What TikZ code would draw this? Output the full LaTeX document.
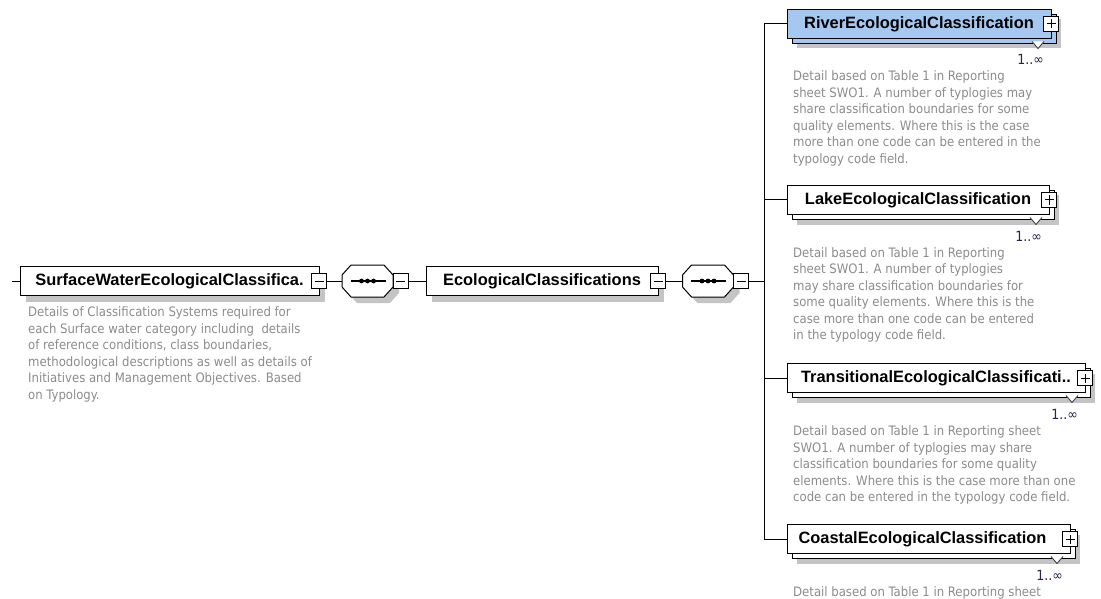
\documentclass[tikz,border=0pt]{standalone}
\usepackage{fontspec}
\setmainfont{DejaVu Sans Condensed}
\newfontfamily\namefont{Liberation Sans}
\usetikzlibrary{calc,backgrounds}

\definecolor{shadowgray}{RGB}{196,196,196}
\definecolor{desctext}{RGB}{140,140,140}
\definecolor{occurs}{RGB}{50,30,80}
\definecolor{selblue}{RGB}{166,200,240}

% octagonal outline of a sequence compositor, built on a frame node
\newcommand\seqoctagon[1]{($(#1.north west)+(9,0)$) -- ($(#1.north east)+(-9,0)$) -- ($(#1.north east)+(0,10)$) -- ($(#1.south east)+(0,-10)$) -- ($(#1.south east)+(-9,0)$) -- ($(#1.south west)+(9,0)$) -- ($(#1.south west)+(0,-10)$) -- ($(#1.north west)+(0,10)$) -- cycle}

\tikzset{
  elem/.style={draw=black, fill=white, line width=1pt, minimum height=29pt,
    inner sep=0pt, outer sep=0pt, font=\namefont\bfseries\fontsize{16.4}{19}\selectfont},
  seqframe/.style={minimum width=51pt, minimum height=32pt, inner sep=0pt, outer sep=0pt},
  toggle/.style={draw=black, fill=white, line width=1pt, minimum size=15pt,
    inner sep=0pt, outer sep=0pt},
  minusbox/.style={toggle, path picture={
    \draw[line width=1pt] ([xshift=3pt]path picture bounding box.west)
      -- ([xshift=-3pt]path picture bounding box.east);}},
  plusbox/.style={toggle, path picture={
    \draw[line width=1pt] ([xshift=3pt]path picture bounding box.west)
      -- ([xshift=-3pt]path picture bounding box.east);
    \draw[line width=1pt] ([yshift=3pt]path picture bounding box.south)
      -- ([yshift=-3pt]path picture bounding box.north);}},
  desc/.style={anchor=north west, inner sep=0pt, align=left, text=desctext,
    font=\fontsize{13}{16.5}\selectfont},
  occ/.style={anchor=base east, inner sep=0pt, text=occurs, font=\fontsize{14}{16}\selectfont},
  conn/.style={draw=black, line width=1pt},
  shadowsmall/.style={fill=shadowgray, transform canvas={xshift=6pt, yshift=-6pt}},
  shadowbig/.style={fill=shadowgray, transform canvas={xshift=10pt, yshift=-10pt}},
  backlayer/.style={draw=black, line width=1pt, transform canvas={xshift=5pt, yshift=-5pt}},
  chevron/.style={fill=white, draw=black!75, line width=0.9pt},
}

\begin{document}
\begin{tikzpicture}[x=1pt, y=-1pt]
\useasboundingbox (0,0) rectangle (1101,599);

% ---- root element and its content model ----
\coordinate (rootin) at (12,281);
\node[elem, minimum width=299pt] (root) at (169.5,281) {SurfaceWaterEcologicalClassifica.};
\node[minusbox] (root-tog) at (root.east) {};
\node[desc] (root-doc) at (28,306.5) {Details of Classification Systems required for\\
each Surface water category including~ details\\
of reference conditions, class boundaries,\\
methodological descriptions as well as details of\\
Initiatives and Management Objectives. Based\\
on Typology.};

\node[seqframe] (seq1) at (367.5,281) {};
\filldraw[fill=white, draw=black, line width=1pt] \seqoctagon{seq1};
\draw[line width=1.2pt] ($(seq1.center)+(-17,0)$) -- ($(seq1.center)+(18,0)$);
\foreach \dx in {-6,0,6} \fill ($(seq1.center)+(\dx,0)$) circle (2.4pt);
\node[minusbox] (seq1-tog) at ([xshift=7.5pt]seq1.east) {};

\node[elem, minimum width=232pt] (eco) at (542,281) {EcologicalClassifications};
\node[minusbox] (eco-tog) at (eco.east) {};

\node[seqframe] (seq2) at (708,281) {};
\filldraw[fill=white, draw=black, line width=1pt] \seqoctagon{seq2};
\draw[line width=1.2pt] ($(seq2.center)+(-17,0)$) -- ($(seq2.center)+(18,0)$);
\foreach \dx in {-6,0,6} \fill ($(seq2.center)+(\dx,0)$) circle (2.4pt);
\node[minusbox] (seq2-tog) at ([xshift=7.5pt]seq2.east) {};

\coordinate (trunk) at (764,281);

% ---- the four repeated child elements ----
\node[elem, fill=selblue, minimum width=264pt] (river) at (919,24) {RiverEcologicalClassification};
\node[plusbox] (river-tog) at (river.east) {};
\node[occ] (river-occ) at ($(river.south east)+(-7,26.5)$) {1..∞};
\node[desc] (river-doc) at (793,70.5) {Detail based on Table 1 in Reporting\\
sheet SWO1. A number of typlogies may\\
share classification boundaries for some\\
quality elements. Where this is the case\\
more than one code can be entered in the\\
typology code field.};

\node[elem, minimum width=262pt] (lake) at (918,200) {LakeEcologicalClassification};
\node[plusbox] (lake-tog) at (lake.east) {};
\node[occ] (lake-occ) at ($(lake.south east)+(-7,26.5)$) {1..∞};
\node[desc] (lake-doc) at (793,247) {Detail based on Table 1 in Reporting\\
sheet SWO1. A number of typlogies\\
may share classification boundaries for\\
some quality elements. Where this is the\\
case more than one code can be entered\\
in the typology code field.};

\node[elem, minimum width=298pt] (trans) at (936,378) {TransitionalEcologicalClassificati..};
\node[plusbox] (trans-tog) at (trans.east) {};
\node[occ] (trans-occ) at ($(trans.south east)+(-7,26.5)$) {1..∞};
\node[desc] (trans-doc) at (793,425.5) {Detail based on Table 1 in Reporting sheet\\
SWO1. A number of typlogies may share\\
classification boundaries for some quality\\
elements. Where this is the case more than one\\
code can be entered in the typology code field.};

\node[elem, minimum width=283pt] (coastal) at (928.5,539) {\hspace*{-12pt}CoastalEcologicalClassification};
\node[plusbox] (coastal-tog) at (coastal.east) {};
\node[occ] (coastal-occ) at ($(coastal.south east)+(-7,26.5)$) {1..∞};
\node[desc] (coastal-doc) at (793,586.5) {Detail based on Table 1 in Reporting sheet};

% multiplicity notches under the stacked boxes
\foreach \n in {river,lake,trans,coastal}
  \filldraw[chevron] ($(\n.south east)+(-19,3)$) -- ($(\n.south east)+(-13,10)$) -- ($(\n.south east)+(-7,3)$);

% ---- connectors ----
\draw[conn] (rootin) -- (root.west);
\draw[conn] (root-tog.east) -- (seq1.west);
\draw[conn] (seq1-tog.east) -- (eco.west);
\draw[conn] (eco-tog.east) -- (seq2.west);
\draw[conn] (seq2-tog.east) -- (trunk);
\draw[conn] (trunk |- river.west) -- (trunk |- coastal.west);
\foreach \n in {river,lake,trans,coastal}
  \draw[conn] (trunk |- \n.west) -- (\n.west);

% ---- shadows and stacked back layers ----
\begin{scope}[on background layer]
  \fill[white] (0,0) rectangle (1101,599);
  \fill[shadowsmall] (root.north west) rectangle (root.south east);
  \fill[shadowsmall] (eco.north west) rectangle (eco.south east);
  \fill[shadowsmall] \seqoctagon{seq1};
  \fill[shadowsmall] \seqoctagon{seq2};
  \foreach \n in {river,lake,trans,coastal}
    \fill[shadowbig] (\n.north west) rectangle (\n.south east);
  \filldraw[backlayer, fill=selblue] (river.north west) rectangle (river.south east);
  \foreach \n in {lake,trans,coastal}
    \filldraw[backlayer, fill=white] (\n.north west) rectangle (\n.south east);
\end{scope}
\end{tikzpicture}
\end{document}
